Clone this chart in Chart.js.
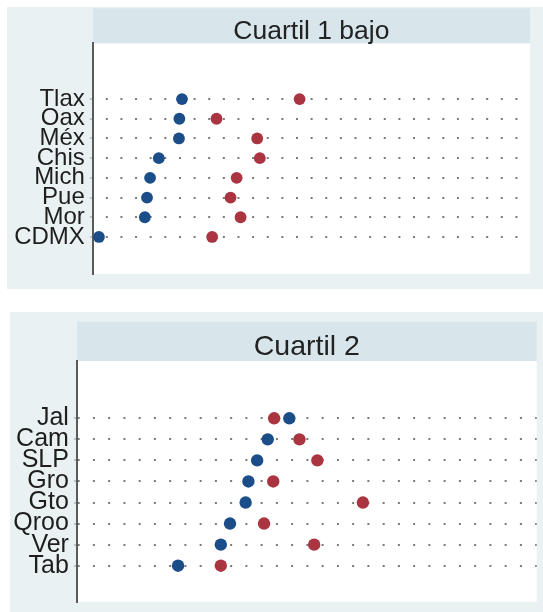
<!DOCTYPE html>
<html>
<head>
<meta charset="utf-8">
<script src="https://cdn.jsdelivr.net/npm/chart.js@4.4.0/dist/chart.umd.min.js"></script>
<style>
  html, body { margin: 0; padding: 0; background: #ffffff; }
  body { width: 543px; height: 612px; position: relative; overflow: hidden; }
  canvas { position: absolute; display: block; }
  #c1 { left: 7px; top: 7px; }
  #c2 { left: 10px; top: 312px; }
</style>
</head>
<body>
<canvas id="c1" width="536" height="282"></canvas>
<canvas id="c2" width="533" height="300"></canvas>
<script>
// ---- data ----
const title1 = 'Cuartil 1 bajo';
const cats1 = ['Tlax', 'Oax', 'Méx', 'Chis', 'Mich', 'Pue', 'Mor', 'CDMX'];
const blue1 = [20.4, 19.8, 19.7, 15.1, 13.1, 12.4, 11.9, 1.4];
const red1  = [47.3, 28.3, 37.6, 38.2, 32.9, 31.5, 33.8, 27.3];

const title2 = 'Cuartil 2';
const cats2 = ['Jal', 'Cam', 'SLP', 'Gro', 'Gto', 'Qroo', 'Ver', 'Tab'];
const blue2 = [46.2, 41.5, 39.2, 37.3, 36.7, 33.3, 31.3, 22.0];
const red2  = [42.9, 48.4, 52.3, 42.7, 62.2, 40.7, 51.6, 31.3];

// ---- styling ----
const BG = '#eaf1f3';
const STRIP = '#d8e5eb';
const BLUE = '#1b4d89';
const RED = '#ab3441';
const FONT = "'Liberation Sans', Arial, sans-serif";

const panelBg = {
  id: 'panelBg',
  beforeDraw(chart, args, opts) {
    const ctx = chart.ctx;
    const a = chart.chartArea;
    ctx.save();
    ctx.fillStyle = BG;
    ctx.fillRect(0, 0, chart.width, chart.height);
    ctx.fillStyle = STRIP;
    ctx.fillRect(a.left, opts.stripTop, a.right - a.left, a.top - opts.stripTop);
    ctx.fillStyle = '#ffffff';
    ctx.fillRect(a.left, a.top, a.right - a.left, a.bottom - a.top);
    ctx.restore();
  }
};

function makePanel(id, cfg) {
  const n = cfg.cats.length;
  const pts = arr => arr.map((v, i) => ({ x: v, y: n - i }));
  return new Chart(document.getElementById(id), {
    type: 'scatter',
    data: {
      datasets: [
        { data: pts(cfg.blue), backgroundColor: BLUE, borderWidth: 0, pointRadius: cfg.r, pointHoverRadius: cfg.r },
        { data: pts(cfg.red), backgroundColor: RED, borderWidth: 0, pointRadius: cfg.r, pointHoverRadius: cfg.r }
      ]
    },
    options: {
      responsive: false,
      animation: false,
      events: [],
      layout: { padding: cfg.pad },
      plugins: {
        legend: { display: false },
        tooltip: { enabled: false },
        title: {
          display: true,
          text: cfg.title,
          fullSize: false,
          color: '#222222',
          font: { family: FONT, size: cfg.titleSize, weight: 'normal', lineHeight: cfg.titleLH },
          padding: cfg.titlePad
        },
        panelBg: { stripTop: cfg.stripTop }
      },
      scales: {
        x: { type: 'linear', min: 0, max: 100, display: false },
        y: {
          type: 'linear',
          min: cfg.ymin,
          max: cfg.ymax,
          afterBuildTicks: s => { s.ticks = cfg.cats.map((c, i) => ({ value: n - i })); },
          afterFit: s => { s.width = cfg.axisW; s.paddingTop = 0; s.paddingBottom = 0; },
          ticks: {
            callback: v => cfg.cats[n - v],
            color: '#1e1e1e',
            font: { family: FONT, size: cfg.labelSize, lineHeight: 1 },
            padding: cfg.tickPad,
            autoSkip: false
          },
          grid: {
            color: '#7a7a7a',
            lineWidth: 2,
            drawTicks: true,
            tickLength: 3,
            tickColor: '#999999',
            tickWidth: 1
          },
          border: {
            display: true,
            color: '#5a5a5a',
            width: 2,
            dash: [2, cfg.period - 2],
            dashOffset: cfg.dashOff
          }
        }
      }
    },
    plugins: [panelBg]
  });
}

makePanel('c1', {
  title: title1, cats: cats1, blue: blue1, red: red1,
  r: 5.9, titleSize: 26.5, titleLH: 0.85, labelSize: 24,
  pad: { left: 0, right: 13, top: 0, bottom: 15 },
  titlePad: { top: 13.74, bottom: 0.06 },
  stripTop: 1.3, axisW: 85.8, tickPad: 5,
  ymin: -0.88, ymax: 10.83,
  period: 14.63, dashOff: 2.83
});

makePanel('c2', {
  title: title2, cats: cats2, blue: blue2, red: red2,
  r: 6.2, titleSize: 28.5, titleLH: 0.9, labelSize: 25,
  pad: { left: 0, right: 6.3, top: 0, bottom: 10.3 },
  titlePad: { top: 22.67, bottom: 0.68 },
  stripTop: 9.7, axisW: 66.9, tickPad: 5,
  ymin: -0.71, ymax: 10.72,
  period: 15.25, dashOff: 0.35
});
</script>
</body>
</html>
